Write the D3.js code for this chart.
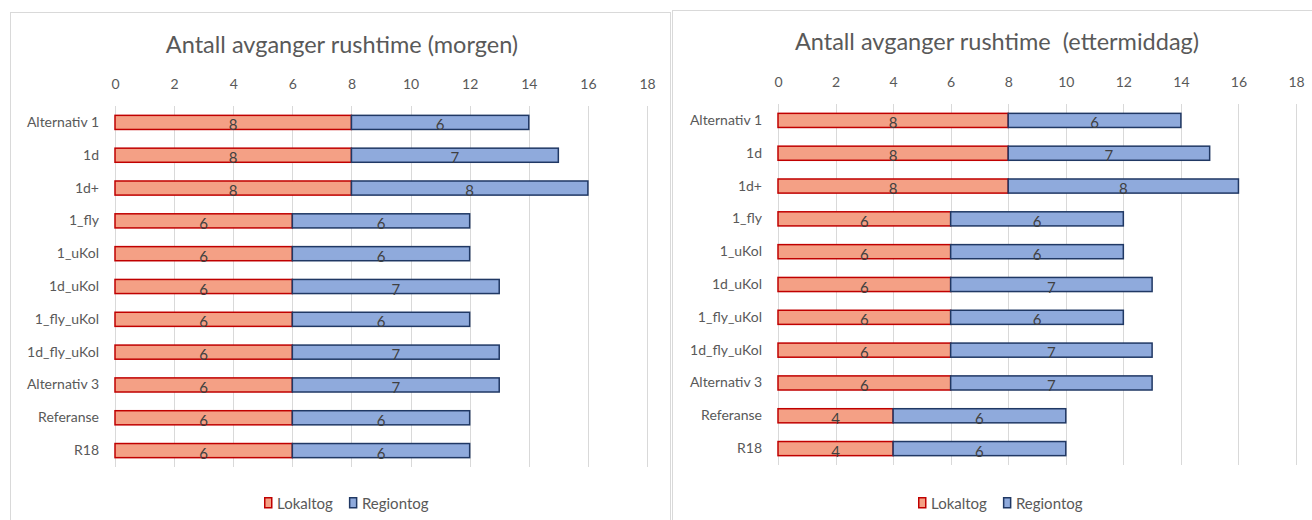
<!DOCTYPE html>
<html>
<head>
<meta charset="utf-8">
<script src="https://cdn.jsdelivr.net/npm/d3@7"></script>
<style>
  html, body { margin: 0; padding: 0; background: #fff; }
  svg { display: block; font-family: Lato, "Open Sans", sans-serif; }
</style>
</head>
<body>
<svg id="chart" width="1312" height="520"></svg>
<script>
// Categories (top to bottom)
const categories = ["Alternativ 1", "1d", "1d+", "1_fly", "1_uKol", "1d_uKol", "1_fly_uKol", "1d_fly_uKol", "Alternativ 3", "Referanse", "R18"];
const seriesNames = ["Lokaltog", "Regiontog"];

// Morning rush hour departures
const morgenLokaltog  = [8, 8, 8, 6, 6, 6, 6, 6, 6, 6, 6];
const morgenRegiontog = [6, 7, 8, 6, 6, 7, 6, 7, 7, 6, 6];

// Afternoon rush hour departures
const ettermiddagLokaltog  = [8, 8, 8, 6, 6, 6, 6, 6, 6, 4, 4];
const ettermiddagRegiontog = [6, 7, 8, 6, 6, 7, 6, 7, 7, 6, 6];

const xTicks = [0, 2, 4, 6, 8, 10, 12, 14, 16, 18];
const titles = ["Antall avganger rushtime (morgen)", "Antall avganger rushtime  (ettermiddag)"];

const fills   = { Lokaltog: "#F4A085", Regiontog: "#8FAADC" };
const strokes = { Lokaltog: "#C00000", Regiontog: "#203864" };

const svg = d3.select("#chart");

function drawPanel(cfg) {
  const g = svg.append("g");

  // chart frame
  g.append("rect")
    .attr("x", cfg.frame[0] + 0.5).attr("y", cfg.frame[1] + 0.5)
    .attr("width", cfg.frame[2]).attr("height", cfg.frame[3])
    .attr("fill", "#fff").attr("stroke", "#d9d9d9").attr("stroke-width", 1);

  const x = d3.scaleLinear().domain([0, 18]).range([cfg.x0, cfg.x1]);
  const y = d3.scaleBand().domain(categories).range([cfg.y0, cfg.y1]).paddingInner(0.57).paddingOuter(0.285);

  // title
  g.append("text")
    .attr("x", cfg.titleX).attr("y", cfg.titleY)
    .attr("text-anchor", "middle")
    .attr("font-size", 23.5).attr("fill", "#595959")
    .attr("xml:space", "preserve")
    .text(cfg.title);

  // top axis with gridlines
  const axis = d3.axisTop(x).tickValues(xTicks).tickSize(0).tickPadding(0);
  const ax = g.append("g").attr("transform", `translate(0,${cfg.tickY})`).call(axis);
  ax.select(".domain").remove();
  ax.selectAll("text").attr("font-size", 14).attr("fill", "#595959")
    .attr("font-family", "Lato, 'Open Sans', sans-serif");

  g.append("g").selectAll("line").data(xTicks).join("line")
    .attr("x1", d => Math.round(x(d)) + 0.5).attr("x2", d => Math.round(x(d)) + 0.5)
    .attr("y1", cfg.y0).attr("y2", cfg.y1)
    .attr("stroke", "#d9d9d9").attr("stroke-width", 1);

  // category axis
  const yAxis = d3.axisLeft(y).tickSize(0).tickPadding(16);
  const ay = g.append("g").attr("transform", `translate(${cfg.x0},0)`).call(yAxis);
  ay.select(".domain").remove();
  ay.selectAll("text").attr("font-size", 14).attr("fill", "#595959")
    .attr("font-family", "Lato, 'Open Sans', sans-serif");

  // stacked data
  const rows = categories.map((c, i) => ({ cat: c, Lokaltog: cfg.lokal[i], Regiontog: cfg.region[i] }));
  const stacked = d3.stack().keys(seriesNames)(rows);

  const layers = g.append("g").selectAll("g").data(stacked).join("g");
  layers.selectAll("rect").data(d => d.map(p => ({ key: d.key, p }))).join("rect")
    .attr("x", d => x(d.p[0]))
    .attr("y", d => y(d.p.data.cat))
    .attr("width", d => x(d.p[1]) - x(d.p[0]))
    .attr("height", y.bandwidth())
    .attr("fill", d => fills[d.key])
    .attr("stroke", d => strokes[d.key])
    .attr("stroke-width", 1.5);

  layers.selectAll("text").data(d => d.map(p => ({ key: d.key, p }))).join("text")
    .attr("x", d => (x(d.p[0]) + x(d.p[1])) / 2)
    .attr("y", d => y(d.p.data.cat) + y.bandwidth() + 1)
    .attr("text-anchor", "middle")
    .attr("font-size", 15).attr("fill", "#404040")
    .text(d => d.p[1] - d.p[0]);

  // legend
  const lg = g.append("g").attr("transform", `translate(${cfg.legendX},${cfg.legendY})`);
  let off = 0;
  seriesNames.forEach(s => {
    lg.append("rect").attr("x", off + 0.75).attr("y", -5.25).attr("width", 7).attr("height", 10)
      .attr("fill", fills[s]).attr("stroke", strokes[s]).attr("stroke-width", 1.5);
    const t = lg.append("text").attr("x", off + 13).attr("y", 5.5)
      .attr("font-size", 15).attr("fill", "#595959").text(s);
    off += 13 + t.node().getComputedTextLength() + 16;
  });
}

drawPanel({
  frame: [10, 12, 660, 520], x0: 115, x1: 647, y0: 106, y1: 467,
  tickY: 89, title: titles[0], titleX: 342, titleY: 53,
  lokal: morgenLokaltog, region: morgenRegiontog,
  legendX: 264, legendY: 503
});

drawPanel({
  frame: [672, 10, 650, 520], x0: 778, x1: 1296, y0: 104, y1: 465,
  tickY: 87, title: titles[1], titleX: 997, titleY: 50,
  lokal: ettermiddagLokaltog, region: ettermiddagRegiontog,
  legendX: 918, legendY: 503
});
</script>
</body>
</html>
